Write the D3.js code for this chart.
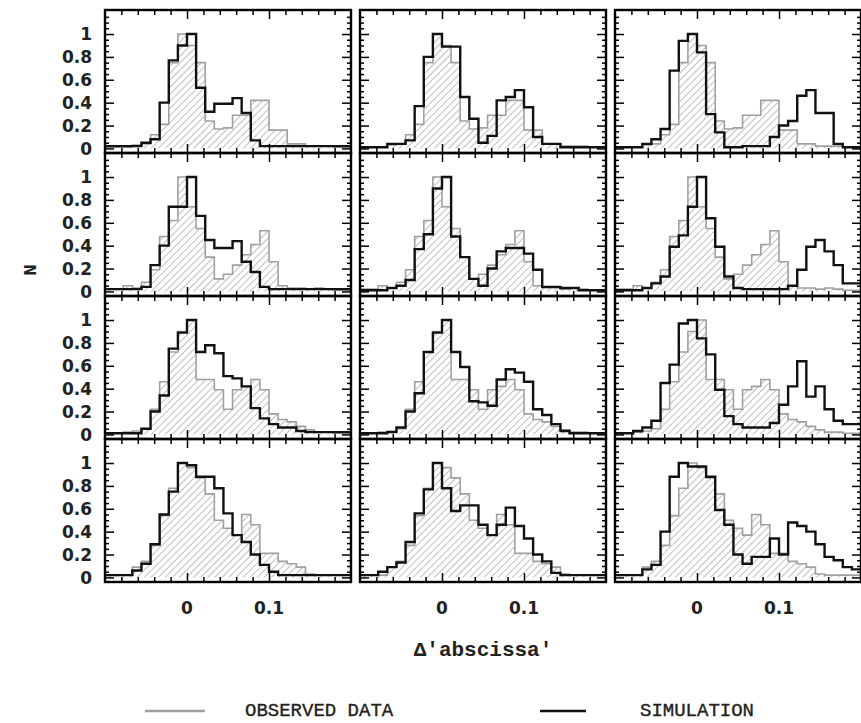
<!DOCTYPE html>
<html>
<head>
<meta charset="utf-8">
<script src="https://cdn.jsdelivr.net/npm/d3@7"></script>
<style>
  body { margin: 0; background: #fff; }
  svg { display: block; }
</style>
</head>
<body>
<svg id="chart" width="861" height="723"></svg>
<script>
// Histograms: 27 equal bins spanning [-0.1, 0.2] in Δ'abscissa'
const binLo = -0.1, binHi = 0.2, binCount = 27;

// Observed distributions, one per row (shared by the three columns)
const obsRow1 = [0.01,0.01,0.01,0.03,0.04,0.12,0.21,0.75,1.00,0.90,0.75,0.24,0.17,0.18,0.29,0.29,0.42,0.42,0.16,0.16,0.04,0.04,0.02,0.02,0.02,0.01,0.01];
const obsRow2 = [0.02,0.02,0.05,0.03,0.08,0.19,0.48,0.62,1.00,0.74,0.55,0.30,0.11,0.15,0.23,0.32,0.41,0.53,0.26,0.05,0.03,0.03,0.02,0.03,0.02,0.01,0.01];
const obsRow3 = [0.01,0.01,0.02,0.03,0.05,0.22,0.46,0.72,0.90,1.00,0.48,0.48,0.39,0.22,0.39,0.42,0.48,0.39,0.18,0.13,0.11,0.07,0.04,0.02,0.02,0.01,0.01];
const obsRow4 = [0.02,0.02,0.02,0.09,0.14,0.28,0.54,0.78,1.00,0.96,0.87,0.73,0.50,0.43,0.37,0.55,0.46,0.21,0.21,0.14,0.12,0.09,0.03,0.02,0.02,0.02,0.02];

// Simulated distributions, one per panel
const simR1C1 = [0.02,0.02,0.02,0.02,0.05,0.08,0.40,0.77,0.90,1.00,0.53,0.32,0.39,0.39,0.44,0.31,0.07,0.02,0.02,0.02,0.02,0.02,0.02,0.02,0.02,0.02,0.02];
const simR1C2 = [0.01,0.01,0.01,0.04,0.04,0.07,0.37,0.80,1.00,0.89,0.89,0.45,0.26,0.05,0.11,0.42,0.45,0.51,0.36,0.10,0.04,0.04,0.01,0.01,0.01,0.01,0.01];
const simR1C3 = [0.01,0.01,0.01,0.04,0.08,0.17,0.68,0.94,1.00,0.84,0.30,0.14,0.01,0.01,0.02,0.02,0.02,0.10,0.20,0.24,0.46,0.51,0.31,0.31,0.04,0.01,0.01];
const simR2C1 = [0.02,0.02,0.02,0.02,0.04,0.23,0.40,0.74,0.74,1.00,0.66,0.45,0.38,0.38,0.44,0.26,0.17,0.04,0.02,0.02,0.02,0.02,0.02,0.02,0.02,0.02,0.02];
const simR2C2 = [0.01,0.01,0.01,0.03,0.05,0.10,0.37,0.50,0.90,1.00,0.48,0.30,0.11,0.05,0.20,0.35,0.38,0.38,0.33,0.19,0.04,0.04,0.03,0.03,0.01,0.01,0.01];
const simR2C3 = [0.01,0.01,0.01,0.03,0.07,0.13,0.39,0.49,0.74,1.00,0.64,0.39,0.13,0.03,0.02,0.02,0.02,0.02,0.02,0.05,0.19,0.39,0.45,0.35,0.23,0.07,0.07];
const simR3C1 = [0.01,0.01,0.01,0.01,0.05,0.20,0.34,0.75,0.89,1.00,0.72,0.78,0.71,0.51,0.49,0.42,0.23,0.14,0.09,0.06,0.06,0.03,0.02,0.02,0.02,0.02,0.02];
const simR3C2 = [0.01,0.01,0.01,0.02,0.06,0.20,0.36,0.72,0.89,1.00,0.72,0.59,0.29,0.28,0.25,0.48,0.57,0.54,0.46,0.22,0.17,0.09,0.03,0.01,0.01,0.01,0.01];
const simR3C3 = [0.01,0.01,0.03,0.06,0.12,0.45,0.61,0.97,1.00,0.84,0.70,0.39,0.16,0.09,0.06,0.06,0.06,0.10,0.26,0.42,0.64,0.33,0.42,0.22,0.12,0.09,0.09];
const simR4C1 = [0.02,0.02,0.02,0.06,0.12,0.29,0.55,0.75,1.00,0.98,0.88,0.88,0.78,0.56,0.37,0.31,0.20,0.11,0.05,0.02,0.02,0.02,0.02,0.02,0.02,0.02,0.02];
const simR4C2 = [0.02,0.02,0.05,0.09,0.13,0.31,0.56,0.77,1.00,0.78,0.58,0.63,0.63,0.46,0.37,0.46,0.61,0.45,0.34,0.20,0.14,0.04,0.02,0.02,0.02,0.02,0.02];
const simR4C3 = [0.02,0.02,0.02,0.07,0.11,0.40,0.88,1.00,0.97,0.97,0.88,0.59,0.46,0.20,0.12,0.18,0.18,0.34,0.20,0.48,0.45,0.40,0.29,0.18,0.15,0.09,0.07];

const obsRows = [obsRow1, obsRow2, obsRow3, obsRow4];
const simGrid = [
  [simR1C1, simR1C2, simR1C3],
  [simR2C1, simR2C2, simR2C3],
  [simR3C1, simR3C2, simR3C3],
  [simR4C1, simR4C2, simR4C3]
];

// Axis ticks and labels
const xMajorTicks = [0, 0.1];
const xTickLabels = ["0", "0.1"];
const xMinorTicks = [-0.08, -0.06, -0.04, -0.02, 0.02, 0.04, 0.06, 0.08, 0.12, 0.14, 0.16, 0.18];
const yMajorTicks = [0, 0.2, 0.4, 0.6, 0.8, 1];
const yTickLabels = ["0", "0.2", "0.4", "0.6", "0.8", "1"];
const yMinorTicks = [0.05, 0.1, 0.15, 0.25, 0.3, 0.35, 0.45, 0.5, 0.55, 0.65, 0.7, 0.75, 0.85, 0.9, 0.95, 1.05, 1.1, 1.15];
const xTitle = "\u0394'abscissa'";
const yTitle = "N";
const legendLabels = ["OBSERVED DATA", "SIMULATION"];

// Layout
const colX = [105, 360, 615], panelW = 246;
const rowY = [10, 153, 296, 439], panelH = 143;
const obsColor = "#a0a0a0", simColor = "#111";
const tickFont = "DejaVu Sans", textFont = "Liberation Mono";

const svg = d3.select("#chart");
const x = d3.scaleLinear().domain([binLo, binHi]).range([0, panelW]);
const y = d3.scaleLinear().domain([-0.04, 1.21]).range([panelH, 0]);
const binW = (binHi - binLo) / binCount;

const defs = svg.append("defs");
const hatch = defs.append("pattern")
  .attr("id", "hatch")
  .attr("patternUnits", "userSpaceOnUse")
  .attr("width", 5).attr("height", 5)
  .attr("patternTransform", "rotate(45)");
hatch.append("line")
  .attr("x1", 0).attr("y1", 0).attr("x2", 0).attr("y2", 5)
  .attr("stroke", "#888").attr("stroke-width", 1.1);

defs.append("clipPath").attr("id", "panelClip")
  .append("rect").attr("width", panelW).attr("height", panelH);

function stepPoints(vals) {
  const pts = vals.map((v, i) => [binLo + i * binW, v]);
  pts.push([binHi, vals[vals.length - 1]]);
  return pts;
}

const area = d3.area()
  .x(d => x(d[0])).y0(y(0)).y1(d => y(d[1]))
  .curve(d3.curveStepAfter);
const line = d3.line()
  .x(d => x(d[0])).y(d => y(d[1]))
  .curve(d3.curveStepAfter);

function styleAxis(g) {
  g.select(".domain").remove();
  g.selectAll(".tick line").attr("stroke", "#000").attr("stroke-width", 1.5);
  g.selectAll(".tick text").remove();
}

rowY.forEach((py, r) => {
  colX.forEach((px, c) => {
    const g = svg.append("g").attr("transform", `translate(${px},${py})`);
    const plot = g.append("g").attr("clip-path", "url(#panelClip)");
    const obs = stepPoints(obsRows[r]);
    const sim = stepPoints(simGrid[r][c]);

    plot.append("path").datum(obs)
      .attr("d", area).attr("fill", "url(#hatch)").attr("stroke", "none");
    plot.append("path").datum(obs)
      .attr("d", line).attr("fill", "none")
      .attr("stroke", obsColor).attr("stroke-width", 1.6);
    plot.append("path").datum(sim)
      .attr("d", line).attr("fill", "none")
      .attr("stroke", simColor).attr("stroke-width", 2.4)
      .attr("stroke-linejoin", "miter");

    // inward ticks on all four sides
    g.append("g").attr("transform", `translate(0,${panelH})`)
      .call(d3.axisBottom(x).tickValues(xMinorTicks).tickSize(-5)).call(styleAxis);
    g.append("g").attr("transform", `translate(0,${panelH})`)
      .call(d3.axisBottom(x).tickValues(xMajorTicks).tickSize(-9)).call(styleAxis);
    g.append("g")
      .call(d3.axisTop(x).tickValues(xMinorTicks).tickSize(-5)).call(styleAxis);
    g.append("g")
      .call(d3.axisTop(x).tickValues(xMajorTicks).tickSize(-9)).call(styleAxis);
    g.append("g")
      .call(d3.axisLeft(y).tickValues(yMinorTicks).tickSize(-4)).call(styleAxis);
    g.append("g")
      .call(d3.axisLeft(y).tickValues(yMajorTicks).tickSize(-9)).call(styleAxis);
    g.append("g").attr("transform", `translate(${panelW},0)`)
      .call(d3.axisRight(y).tickValues(yMinorTicks).tickSize(-4)).call(styleAxis);
    g.append("g").attr("transform", `translate(${panelW},0)`)
      .call(d3.axisRight(y).tickValues(yMajorTicks).tickSize(-9)).call(styleAxis);

    g.append("rect").attr("width", panelW).attr("height", panelH)
      .attr("fill", "none").attr("stroke", "#000").attr("stroke-width", 2.4);

    if (c === 0) {
      g.selectAll(".ylab").data(yMajorTicks).join("text")
        .attr("x", -13).attr("y", d => y(d)).attr("dy", "0.36em")
        .attr("text-anchor", "end")
        .attr("font-family", tickFont).attr("font-weight", "bold").attr("font-size", 17)
        .attr("fill", "#222")
        .text((d, i) => yTickLabels[i]);
    }
    if (r === rowY.length - 1) {
      g.selectAll(".xlab").data(xMajorTicks).join("text")
        .attr("x", d => x(d)).attr("y", panelH + 32)
        .attr("text-anchor", "middle")
        .attr("font-family", tickFont).attr("font-weight", "bold").attr("font-size", 17)
        .attr("fill", "#222")
        .text((d, i) => xTickLabels[i]);
    }
  });
});

// axis titles
svg.append("text")
  .attr("x", 483).attr("y", 656)
  .attr("text-anchor", "middle")
  .attr("font-family", textFont).attr("font-weight", "bold").attr("font-size", 21)
  .attr("fill", "#222")
  .text(xTitle);
svg.append("text")
  .attr("transform", "translate(36,270) rotate(-90)")
  .attr("text-anchor", "middle")
  .attr("font-family", textFont).attr("font-weight", "bold").attr("font-size", 19)
  .attr("fill", "#222")
  .text(yTitle);

// legend
const legend = [
  { label: legendLabels[0], color: obsColor, x1: 145, x2: 205, tx: 245 },
  { label: legendLabels[1], color: simColor, x1: 540, x2: 586, tx: 640 }
];
legend.forEach(d => {
  svg.append("line")
    .attr("x1", d.x1).attr("x2", d.x2).attr("y1", 711).attr("y2", 711)
    .attr("stroke", d.color).attr("stroke-width", 2.6);
  svg.append("text")
    .attr("x", d.tx).attr("y", 716)
    .attr("font-family", textFont).attr("font-size", 19)
    .attr("fill", "#222").attr("stroke", "#222").attr("stroke-width", 0.35)
    .text(d.label);
});
</script>
</body>
</html>
